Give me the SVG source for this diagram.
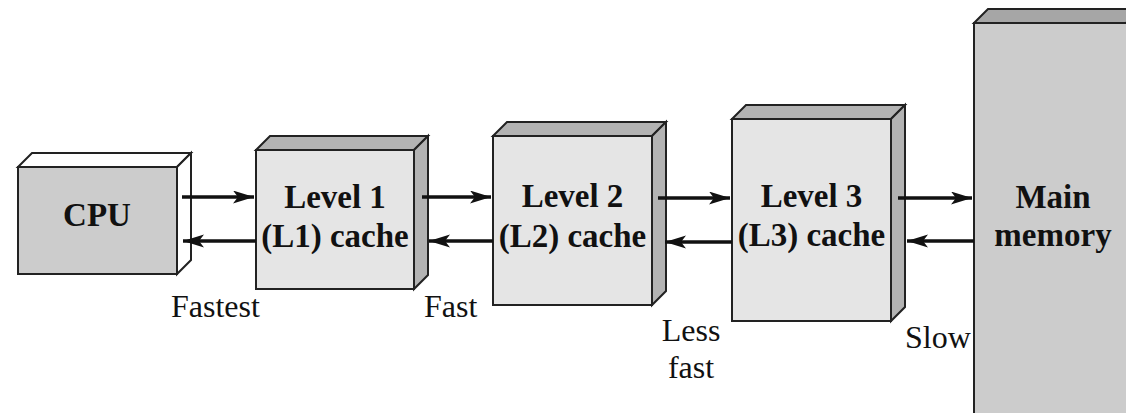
<svg xmlns="http://www.w3.org/2000/svg" width="1126" height="413" viewBox="0 0 1126 413">
<style>
.edge{stroke:#222;stroke-width:2;stroke-linejoin:miter}
.front-dark{fill:#cccccc}
.front-light{fill:#e5e5e5}
.shade{fill:#b3b3b3}
.white{fill:#ffffff}
.mmtop{fill:#a6a6a6}
.title{font-family:"Liberation Serif","Times New Roman",serif;font-weight:bold;font-size:33px;fill:#111;text-anchor:middle}
.label{font-family:"Liberation Serif","Times New Roman",serif;font-size:32px;fill:#111}
.conn{stroke:#111;stroke-width:3.5;fill:none}
</style>
<defs>
<marker id="ah" markerUnits="userSpaceOnUse" markerWidth="24" markerHeight="14" refX="21" refY="6.5" orient="auto">
<path d="M0,0 L21,6.5 L0,13 L5,6.5 z" fill="#111"/>
</marker>
</defs>
<rect width="1126" height="413" fill="#ffffff"/>
<g id="cpu">
<rect class="front-dark edge" x="18" y="167" width="159" height="107"/>
<polygon class="white edge" points="18,167 32,153 191,153 177,167"/>
<polygon class="white edge" points="177,167 191,153 191,260 177,274"/>
<text class="title" x="97" y="226">CPU</text>
</g>
<g id="l1">
<rect class="front-light edge" x="256" y="150" width="158" height="139"/>
<polygon class="shade edge" points="256,150 270,136 428,136 414,150"/>
<polygon class="shade edge" points="414,150 428,136 428,275 414,289"/>
<text class="title" x="335" y="208">Level 1</text>
<text class="title" x="335" y="247">(L1) cache</text>
</g>
<g id="l2">
<rect class="front-light edge" x="493" y="136" width="159" height="169"/>
<polygon class="shade edge" points="493,136 507,122 666,122 652,136"/>
<polygon class="shade edge" points="652,136 666,122 666,291 652,305"/>
<text class="title" x="572.5" y="207">Level 2</text>
<text class="title" x="572.5" y="247">(L2) cache</text>
</g>
<g id="l3">
<rect class="front-light edge" x="732" y="119" width="159" height="202"/>
<polygon class="shade edge" points="732,119 746,105 905,105 891,119"/>
<polygon class="shade edge" points="891,119 905,105 905,307 891,321"/>
<text class="title" x="811.5" y="207">Level 3</text>
<text class="title" x="811.5" y="246">(L3) cache</text>
</g>
<g id="main-memory">
<rect class="front-dark edge" x="974" y="23" width="200" height="420"/>
<polygon class="mmtop edge" points="974,23 988,9 1140,9 1126,23"/>
<text class="title" x="1053" y="208">Main</text>
<text class="title" x="1053" y="246">memory</text>
</g>
<g id="connectors">
<line class="conn" x1="182" y1="197" x2="254" y2="197" marker-end="url(#ah)"/>
<line class="conn" x1="256" y1="241" x2="183" y2="241" marker-end="url(#ah)"/>
<line class="conn" x1="422" y1="197" x2="491" y2="197" marker-end="url(#ah)"/>
<line class="conn" x1="493" y1="241" x2="429" y2="241" marker-end="url(#ah)"/>
<line class="conn" x1="658" y1="198" x2="730" y2="198" marker-end="url(#ah)"/>
<line class="conn" x1="732" y1="242" x2="665" y2="242" marker-end="url(#ah)"/>
<line class="conn" x1="898" y1="198" x2="972" y2="198" marker-end="url(#ah)"/>
<line class="conn" x1="974" y1="241" x2="907" y2="241" marker-end="url(#ah)"/>
</g>
<g id="labels">
<text class="label" x="171" y="317">Fastest</text>
<text class="label" x="424" y="317">Fast</text>
<text class="label" x="691" y="341" text-anchor="middle">Less</text>
<text class="label" x="691" y="378" text-anchor="middle">fast</text>
<text class="label" x="905" y="348">Slow</text>
</g>
</svg>
